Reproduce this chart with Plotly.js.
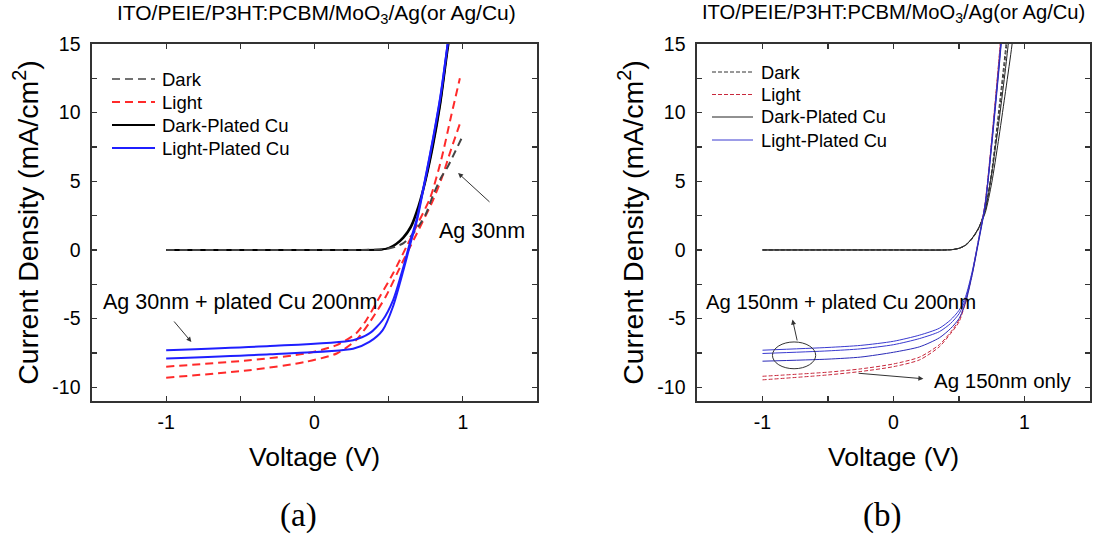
<!DOCTYPE html>
<html>
<head>
<meta charset="utf-8">
<script src="https://cdn.plot.ly/plotly-3.0.1.min.js"></script>
<style>html,body{margin:0;padding:0;background:#fff;}#chart{width:1093px;height:535px;}</style>
</head>
<body>
<div id="chart"></div>
<script>
// ---------- Panel (a): Ag 30nm ----------
const aDarkV      = [-1, 0.0, 0.4, 0.5, 0.55, 0.6, 0.65, 0.7, 0.75, 0.8, 0.85, 0.9, 0.95, 0.99];
const aDarkJ      = [0, 0, 0.02, 0.1, 0.25, 0.5, 1.0, 1.7, 2.6, 4.0, 5.2, 6.1, 7.2, 8.1];
const aLight1V    = [-1, -0.44, -0.06, 0.15, 0.28, 0.35, 0.44, 0.53, 0.62, 0.70, 0.78, 0.855, 0.92, 0.98];
const aLight1J    = [-8.5, -8.03, -7.54, -6.93, -6.08, -5.1, -3.4, -1.7, 0.24, 2.0, 3.8, 6.6, 9.7, 12.5];
const aLight2V    = [-1, -0.44, -0.06, 0.15, 0.28, 0.37, 0.48, 0.60, 0.69, 0.80, 0.86, 0.92, 0.99];
const aLight2J    = [-9.3, -8.76, -8.15, -7.54, -6.57, -5.3, -3.4, -0.73, 1.2, 3.65, 5.3, 7.3, 9.5];
const aDarkCu1V   = [-1, 0.3, 0.45, 0.5, 0.55, 0.6, 0.65, 0.7, 0.75, 0.8, 0.85, 0.9, 0.95];
const aDarkCu1J   = [0, 0, 0.03, 0.15, 0.45, 0.95, 1.75, 3.2, 5.2, 7.8, 10.9, 15.0, 18.5];
const aDarkCu2V   = [-1, 0.3, 0.45, 0.5, 0.55, 0.6, 0.65, 0.7, 0.75, 0.8, 0.85, 0.9, 0.95];
const aDarkCu2J   = [0, 0, 0.02, 0.12, 0.38, 0.85, 1.6, 3.0, 5.0, 7.5, 10.6, 14.6, 18.2];
const aLightCu1V  = [-1, -0.3, 0.26, 0.37, 0.46, 0.53, 0.60, 0.65, 0.69, 0.75, 0.80, 0.85, 0.90];
const aLightCu1J  = [-7.3, -7.0, -6.57, -6.08, -5.1, -3.65, -1.2, 0.8, 2.3, 5.4, 8.2, 11.3, 15.2];
const aLightCu2V  = [-1, -0.3, 0.26, 0.37, 0.46, 0.53, 0.60, 0.65, 0.69, 0.75, 0.80, 0.85, 0.90];
const aLightCu2J  = [-7.9, -7.6, -7.2, -6.7, -5.84, -4.1, -1.46, 0.6, 2.1, 5.3, 8.1, 11.2, 15.2];

// ---------- Panel (b): Ag 150nm ----------
const bV          = [-1, -0.5, -0.25, 0, 0.2, 0.35, 0.435, 0.5, 0.55, 0.6, 0.65, 0.7, 0.75, 0.8, 0.85];
const bLightCu1J  = [-7.3, -7.1, -6.95, -6.65, -6.2, -5.7, -5.1, -4.4, -3.4, -1.6, 0.8, 3.4, 7.9, 13.0, 18.5];
const bLightCu2J  = [-7.54, -7.35, -7.2, -6.9, -6.45, -5.95, -5.36, -4.65, -3.6, -1.7, 0.7, 3.3, 7.8, 12.8, 18.2];
const bLightCu3J  = [-8.1, -7.95, -7.8, -7.45, -7.05, -6.4, -5.73, -5.0, -3.85, -1.85, 0.6, 3.2, 7.6, 12.6, 18.0];
const bLight1J    = [-9.2, -8.9, -8.66, -8.3, -7.8, -6.9, -6.0, -5.1, -3.7, -1.7, 0.8, 3.5, 8.1, 13.4, 19.0];
const bLight2J    = [-9.46, -9.1, -8.85, -8.5, -8.0, -7.05, -6.1, -5.25, -3.8, -1.8, 0.7, 3.4, 8.0, 13.2, 18.7];
const bDarkV      = [-1, 0.0, 0.4, 0.45, 0.5, 0.55, 0.6, 0.65, 0.7, 0.75, 0.8, 0.85, 0.9];
const bDark1J     = [0, 0, 0, 0.03, 0.12, 0.35, 0.85, 1.6, 3.0, 5.8, 9.9, 14.2, 19.0];
const bDark2J     = [0, 0, 0, 0.03, 0.12, 0.33, 0.8, 1.55, 2.9, 5.5, 9.4, 13.6, 18.4];
const bDarkCuV    = [-1, 0.0, 0.4, 0.45, 0.5, 0.55, 0.6, 0.65, 0.7, 0.75, 0.8, 0.85, 0.9, 0.95];
const bDarkCu1J   = [0, 0, 0, 0.03, 0.12, 0.35, 0.85, 1.6, 2.9, 5.6, 9.0, 12.8, 17.0, 21.0];
const bDarkCu2J   = [0, 0, 0, 0.03, 0.12, 0.35, 0.85, 1.6, 2.7, 4.9, 7.9, 11.2, 14.6, 18.5];

// ---------- Ticks and text ----------
const xTickVals   = [-1, 0, 1];
const xTickText   = ['-1', '0', '1'];
const yTickVals   = [-10, -5, 0, 5, 10, 15];
const yTickText   = ['-10', '-5', '0', '5', '10', '15'];
const panelTitle  = 'ITO/PEIE/P3HT:PCBM/MoO<sub>3</sub>/Ag(or Ag/Cu)';
const xTitle      = 'Voltage (V)';
const yTitle      = 'Current Density (mA/cm<sup>2</sup>)';
const legendNames = ['Dark', 'Light', 'Dark-Plated Cu', 'Light-Plated Cu'];
const panelLabels = ['(a)', '(b)'];

const FONT = 'Liberation Sans, Arial, sans-serif';
const W = 1093, H = 535;
const px = v => v / W, py = v => 1 - v / H;

// styles per series: [color, dash, width] for panel a and b
const aStyle = [['#444', '8px,5px', 1.6], ['#ff2a2a', '8px,5px', 2], ['#000', 'solid', 2], ['#1f1fff', 'solid', 2]];
const bStyle = [['#333', '4px,2px', 1], ['#c8283c', '4px,2px', 1], ['#222', 'solid', 1], ['#3a3ad0', 'solid', 1]];

function tr(x, y, s, xa, ya, w) {
  return {
    x: x, y: y, type: 'scatter', mode: 'lines', showlegend: false,
    line: {color: s[0], dash: s[1], width: w || s[2], shape: 'spline', smoothing: 0.7},
    xaxis: xa, yaxis: ya, hoverinfo: 'skip'
  };
}

const traces = [
  tr(aLight1V, aLight1J, aStyle[1], 'x', 'y'),
  tr(aLight2V, aLight2J, aStyle[1], 'x', 'y'),
  tr(aDarkCu1V, aDarkCu1J, aStyle[2], 'x', 'y'),
  tr(aDarkCu2V, aDarkCu2J, aStyle[2], 'x', 'y', 1.5),
  tr(aDarkV, aDarkJ, aStyle[0], 'x', 'y', 2),
  tr(aLightCu1V, aLightCu1J, aStyle[3], 'x', 'y'),
  tr(aLightCu2V, aLightCu2J, aStyle[3], 'x', 'y'),

  tr(bDarkCuV, bDarkCu1J, bStyle[2], 'x2', 'y2'),
  tr(bDarkCuV, bDarkCu2J, bStyle[2], 'x2', 'y2'),
  tr(bDarkV, bDark1J, bStyle[0], 'x2', 'y2'),
  tr(bDarkV, bDark2J, bStyle[0], 'x2', 'y2'),
  tr(bV, bLight1J, bStyle[1], 'x2', 'y2'),
  tr(bV, bLight2J, bStyle[1], 'x2', 'y2'),
  tr(bV, bLightCu1J, bStyle[3], 'x2', 'y2'),
  tr(bV, bLightCu2J, bStyle[3], 'x2', 'y2'),
  tr(bV, bLightCu3J, ['#2a2ab8', 'solid', 1], 'x2', 'y2')
];

function xaxisCfg(domain, anchor) {
  return {
    domain: domain, anchor: anchor, range: [-1.5, 1.5],
    tickmode: 'array', tickvals: xTickVals, ticktext: xTickText,
    ticks: 'inside', ticklen: 5, tickwidth: 1.2, tickcolor: '#333',
    minor: {dtick: 0.5, tick0: 0, ticks: 'inside', ticklen: 5, tickwidth: 1.2, tickcolor: '#333'},
    showline: true, linecolor: '#333', linewidth: 1.6, mirror: 'ticks',
    showgrid: false, zeroline: false,
    tickfont: {family: FONT, size: 19.5, color: '#000'},
    ticklabelstandoff: 3,
    title: {text: xTitle, font: {family: FONT, size: 26.5, color: '#000'}, standoff: 15},
    automargin: false, fixedrange: true
  };
}
function yaxisCfg(domain, anchor) {
  return {
    domain: domain, anchor: anchor, range: [-11, 15],
    tickmode: 'array', tickvals: yTickVals, ticktext: yTickText,
    ticks: 'inside', ticklen: 5, tickwidth: 1.2, tickcolor: '#333',
    minor: {dtick: 2.5, tick0: 0, ticks: 'inside', ticklen: 5, tickwidth: 1.2, tickcolor: '#333'},
    showline: true, linecolor: '#333', linewidth: 1.6, mirror: 'ticks',
    showgrid: false, zeroline: false,
    tickfont: {family: FONT, size: 19.5, color: '#000'},
    ticklabelstandoff: 6,
    title: {text: yTitle, font: {family: FONT, size: 28.5, color: '#000'}, standoff: 5},
    automargin: false, fixedrange: true
  };
}

// manual legends (line sample + text) for each panel
const shapes = [
  {type: 'circle', xref: 'x2', yref: 'y2', x0: -0.924, x1: -0.594, y0: -8.65, y1: -6.7,
   line: {color: '#333', width: 1}}
];
const annotations = [];
const legA = {x0: 112, x1: 155, tx: 160, rows: [79, 102, 125, 148], size: 18.5, style: aStyle};
const legB = {x0: 712, x1: 753, tx: 759, rows: [72, 94.5, 117, 140], size: 18.3, style: bStyle};
[legA, legB].forEach(L => {
  legendNames.forEach((nm, i) => {
    const s = L.style[i];
    shapes.push({type: 'line', xref: 'paper', yref: 'paper',
      x0: px(L.x0), x1: px(L.x1), y0: py(L.rows[i]), y1: py(L.rows[i]),
      line: {color: s[0], dash: s[1], width: s[2]}});
    annotations.push({text: nm, xref: 'paper', yref: 'paper', x: px(L.tx), y: py(L.rows[i]),
      xanchor: 'left', yanchor: 'middle', showarrow: false,
      font: {family: FONT, size: L.size, color: '#000'}});
  });
});

const arrow = {showarrow: true, arrowhead: 2, arrowsize: 1, arrowwidth: 1, arrowcolor: '#333', text: ''};
annotations.push(
  {text: panelTitle, xref: 'paper', yref: 'paper', x: px(316), y: py(14), showarrow: false,
   font: {family: FONT, size: 21, color: '#000'}, xanchor: 'center', yanchor: 'middle'},
  {text: panelTitle, xref: 'paper', yref: 'paper', x: px(893), y: py(14), showarrow: false,
   font: {family: FONT, size: 20.2, color: '#000'}, xanchor: 'center', yanchor: 'middle'},
  {text: panelLabels[0], xref: 'paper', yref: 'paper', x: px(298), y: py(515), showarrow: false,
   font: {family: 'Liberation Serif, Times New Roman, serif', size: 33, color: '#000'}, xanchor: 'center', yanchor: 'middle'},
  {text: panelLabels[1], xref: 'paper', yref: 'paper', x: px(882), y: py(515), showarrow: false,
   font: {family: 'Liberation Serif, Times New Roman, serif', size: 33, color: '#000'}, xanchor: 'center', yanchor: 'middle'},
  // panel (a)
  {text: 'Ag 30nm', xref: 'x', yref: 'y', x: 1.13, y: 1.4, showarrow: false,
   font: {family: FONT, size: 21.5, color: '#000'}},
  Object.assign({xref: 'x', yref: 'y', x: 0.968, y: 5.6, ax: 1.19, ay: 3.4, axref: 'x', ayref: 'y'}, arrow),
  {text: 'Ag 30nm + plated Cu 200nm', xref: 'x', yref: 'y', x: -0.50, y: -3.8, showarrow: false,
   font: {family: FONT, size: 21.5, color: '#000'}},
  Object.assign({xref: 'x', yref: 'y', x: -0.83, y: -6.7, ax: -0.955, ay: -5.1, axref: 'x', ayref: 'y'}, arrow),
  // panel (b)
  {text: 'Ag 150nm + plated Cu 200nm', xref: 'x2', yref: 'y2', x: -0.40, y: -3.8, showarrow: false,
   font: {family: FONT, size: 20.3, color: '#000'}},
  Object.assign({xref: 'x2', yref: 'y2', x: -0.771, y: -5.07, ax: -0.733, ay: -6.7, axref: 'x2', ayref: 'y2'}, arrow),
  {text: 'Ag 150nm only', xref: 'x2', yref: 'y2', x: 0.833, y: -9.5, showarrow: false,
   font: {family: FONT, size: 20.5, color: '#000'}},
  Object.assign({xref: 'x2', yref: 'y2', x: 0.228, y: -9.38, ax: -0.278, ay: -8.97, axref: 'x2', ayref: 'y2'}, arrow)
);

const yDom = [1 - 401/H, 1 - 44/H];
const layout = {
  width: W, height: H,
  margin: {l: 0, r: 0, t: 0, b: 0},
  paper_bgcolor: '#fff', plot_bgcolor: '#fff',
  showlegend: false,
  xaxis: xaxisCfg([92/W, 537/W], 'y'),
  yaxis: yaxisCfg(yDom, 'x'),
  xaxis2: xaxisCfg([697/W, 1090/W], 'y2'),
  yaxis2: yaxisCfg(yDom, 'x2'),
  shapes: shapes,
  annotations: annotations
};

Plotly.newPlot('chart', traces, layout, {staticPlot: true, displayModeBar: false});
</script>
</body>
</html>
